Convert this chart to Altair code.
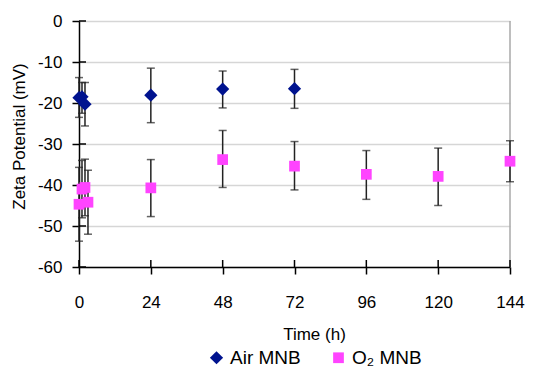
import altair as alt
import pandas as pd

# ---- data ----
air_t = [0, 1, 2, 24, 48, 72]
air_v = [-18.7, -18.5, -20.3, -18.1, -16.6, -16.5]
air_lo = [-23.5, -22.5, -25.6, -24.8, -21.2, -21.3]
air_hi = [-13.8, -15.0, -15.0, -11.5, -12.2, -11.8]

o2_t = [0, 1, 2, 3, 24, 48, 72, 96, 120, 144]
o2_v = [-44.7, -41.0, -40.6, -44.2, -40.7, -33.8, -35.4, -37.4, -37.9, -34.2]
o2_lo = [-53.7, -48.0, -47.5, -52.0, -47.7, -40.6, -41.2, -43.5, -45.0, -39.2]
o2_hi = [-35.7, -34.0, -33.7, -36.4, -33.8, -26.7, -29.4, -31.6, -31.0, -29.2]

series_names = ["Air MNB", "O₂ MNB"]
series_colors = ["#00138f", "#ff44ff"]
series_shapes = ["diamond", "square"]
series_sizes = [175, 115]

x_ticks = [0, 24, 48, 72, 96, 120, 144]
y_ticks = [-60, -50, -40, -30, -20, -10, 0]

rows = []
for t, v, lo, hi in zip(air_t, air_v, air_lo, air_hi):
    rows.append({"series": series_names[0], "t": t, "v": v, "lo": lo, "hi": hi})
for t, v, lo, hi in zip(o2_t, o2_v, o2_lo, o2_hi):
    rows.append({"series": series_names[1], "t": t, "v": v, "lo": lo, "hi": hi})
df = pd.DataFrame(rows)

W, H = 431, 246
FONT = "Liberation Sans"

xscale = alt.Scale(domain=[0, 144], nice=False, zero=False)
yscale = alt.Scale(domain=[-60, 0], nice=False, zero=False)

x_axis = alt.Axis(values=x_ticks, grid=False, tickSize=7, labelPadding=20,
                  labelFlush=False, labelOverlap=False,
                  labelExpr="toString(datum.value)",
                  title="Time (h)", titleX=235, titleY=67, titleBaseline="middle")
y_axis = alt.Axis(values=y_ticks, grid=True, gridColor="#d6d6d6", gridWidth=1.5,
                  tickSize=7, labelPadding=10, labelFlush=False, labelOverlap=False,
                  labelExpr="toString(datum.value)",
                  title="Zeta Potential (mV)", titleX=-60, titleY=115,
                  titleBaseline="middle")

base = alt.Chart(df)

err = base.mark_rule(color="#222222", strokeWidth=1.5).encode(
    x=alt.X("t:Q", scale=xscale, axis=x_axis),
    y=alt.Y("lo:Q", scale=yscale, axis=y_axis),
    y2="hi:Q",
)
cap_lo = base.mark_tick(color="#222222", orient="horizontal", size=8, thickness=1.5).encode(
    x=alt.X("t:Q", scale=xscale, axis=x_axis),
    y=alt.Y("lo:Q", scale=yscale, axis=y_axis),
)
cap_hi = base.mark_tick(color="#222222", orient="horizontal", size=8, thickness=1.5).encode(
    x=alt.X("t:Q", scale=xscale, axis=x_axis),
    y=alt.Y("hi:Q", scale=yscale, axis=y_axis),
)

legend = alt.Legend(title=None, orient="none", direction="horizontal", columns=2,
                    legendX=128, legendY=327, labelFontSize=19, labelFont=FONT,
                    labelColor="black", symbolSize=130, symbolStrokeWidth=0,
                    labelOffset=4, columnPadding=28, padding=0)

pts = base.mark_point(filled=True, opacity=1).encode(
    x=alt.X("t:Q", scale=xscale, axis=x_axis),
    y=alt.Y("v:Q", scale=yscale, axis=y_axis),
    color=alt.Color("series:N", scale=alt.Scale(domain=series_names, range=series_colors),
                    legend=legend),
    shape=alt.Shape("series:N", scale=alt.Scale(domain=series_names, range=series_shapes),
                    legend=legend),
    size=alt.Size("series:N", scale=alt.Scale(domain=series_names, range=series_sizes),
                  legend=None),
)

# right border of the plot area
border = alt.Chart(pd.DataFrame({"t": [144]})).mark_rule(color="#a8a8a8", strokeWidth=1.5).encode(
    x=alt.X("t:Q", scale=xscale, axis=x_axis), y=alt.value(0), y2=alt.value(H)
)

# inner halves of the crossing tick marks
ytick_df = pd.DataFrame({"v": y_ticks})
ytick_in = alt.Chart(ytick_df).mark_rule(color="black", strokeWidth=1.5).encode(
    y=alt.Y("v:Q", scale=yscale, axis=y_axis), x=alt.value(0), x2=alt.value(7)
)
xtick_df = pd.DataFrame({"t": x_ticks})
xtick_in = alt.Chart(xtick_df).mark_rule(color="black", strokeWidth=1.5).encode(
    x=alt.X("t:Q", scale=xscale, axis=x_axis), y=alt.value(H - 7), y2=alt.value(H)
)

chart = alt.layer(border, err, cap_lo, cap_hi, ytick_in, xtick_in, pts).properties(
    width=W, height=H,
    background="white",
    autosize=alt.AutoSizeParams(type="none"),
    padding={"left": 71, "top": 13, "right": 16, "bottom": 100},
).configure_view(stroke=None).configure_axis(
    labelFont=FONT, labelFontSize=17, labelColor="black",
    titleFont=FONT, titleFontSize=17, titleFontWeight="normal", titleColor="black",
    domainColor="black", domainWidth=1.5, tickColor="black", tickWidth=1.5,
)

chart.save("out.html", embed_options={"renderer": "svg", "actions": False})
